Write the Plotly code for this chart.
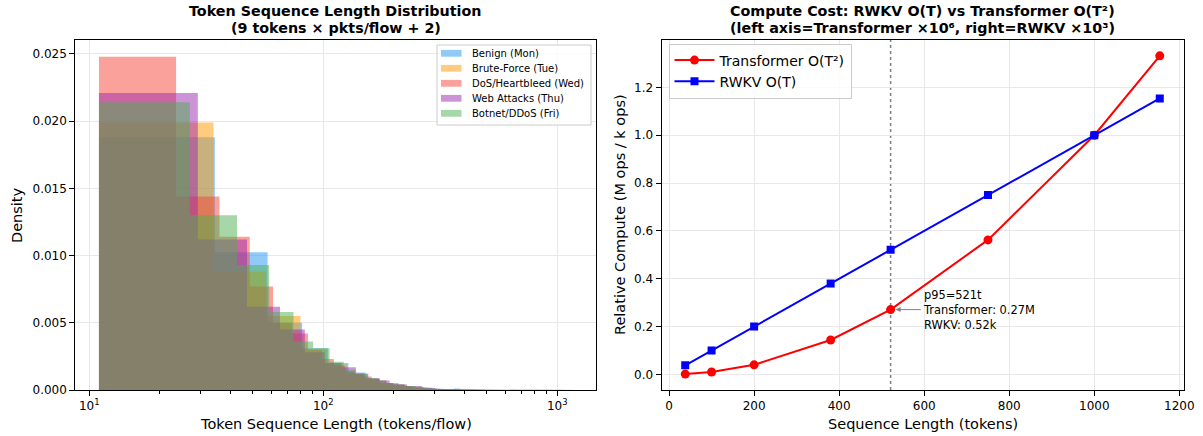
import plotly.graph_objects as go

W, H = 1203, 436

# ---------------- token sequence length histograms (density per bin) ----------------
bin_start = 11.0

series_names = ["Benign (Mon)", "Brute-Force (Tue)", "DoS/Heartbleed (Wed)",
                "Web Attacks (Thu)", "Botnet/DDoS (Fri)"]

benign_width = 23.4
benign_density = [0.0188, 0.01025, 0.0050, 0.0031, 0.0020, 0.0013, 0.0008, 0.0005,
                  0.0004, 0.0003, 0.0002, 0.00015, 0.0001, 0.00008, 0.00006, 0.00012,
                  0.00003, 0.00002, 0.00003, 0.00001, 0.00001, 0.00002, 0, 0.00001,
                  0, 0, 0.00001, 0, 0, 0, 0, 0, 0, 0, 0, 0, 0, 0, 0, 0, 0, 0, 0, 0,
                  0.00001]

brute_width = 22.96
brute_density = [0.0199, 0.0088, 0.0055, 0.0030, 0.0019, 0.0012, 0.0008, 0.0005,
                 0.0003, 0.0002, 0.00015, 0.0001, 0.00008, 0.00005, 0.00004, 0.00003,
                 0.00002, 0.00002, 0.00001, 0.00001, 0, 0.00001, 0, 0, 0.00001, 0, 0,
                 0, 0, 0, 0, 0, 0, 0, 0, 0, 0, 0, 0, 0, 0, 0, 0, 0, 0, 0, 0, 0, 0,
                 0.00001]

dos_width = 12.5
dos_density = [0.0248, 0.0144, 0.0114, 0.0077, 0.0050, 0.0042, 0.0030, 0.0023,
               0.0018, 0.0014, 0.0012, 0.0010, 0.0008, 0.0007, 0.0005, 0.0004,
               0.0004, 0.0003, 0.0002, 0.0002, 0.00015, 0.00012, 0.0001, 0.00008,
               0.00006, 0.00005, 0.00004, 0.00004, 0.00003, 0.00002, 0.00002, 0.00002,
               0.00001, 0.00001, 0.00002, 0, 0.00001, 0.00001, 0, 0, 0.00001, 0, 0, 0,
               0.00001, 0, 0, 0, 0, 0, 0, 0.00001]

web_width = 18.1
web_density = [0.0221, 0.0112, 0.0062, 0.0045, 0.0028, 0.0020, 0.0017, 0.0012,
               0.0009, 0.0007, 0.0005, 0.0004, 0.0003, 0.0003, 0.0002, 0.00015,
               0.0001, 0.0001, 0.00007, 0.00005, 0.00004, 0.00003, 0.00003, 0.00002,
               0.00002, 0.00001, 0.00001, 0.00002, 0, 0.00001, 0, 0.00001, 0, 0,
               0.00001, 0, 0, 0, 0, 0, 0.00001, 0, 0, 0, 0, 0, 0, 0, 0, 0, 0,
               0.00001]

botnet_width = 15.9
botnet_density = [0.0214, 0.0130, 0.0093, 0.0058, 0.0036, 0.0031, 0.0021, 0.0015,
                  0.0012, 0.0009, 0.0007, 0.0005, 0.0004, 0.0003, 0.0003, 0.0002,
                  0.00015, 0.00012, 0.0001, 0.00008, 0.00006, 0.00005, 0.00004,
                  0.00003, 0.00003, 0.00002, 0.00002, 0.00001, 0.00001, 0.00001, 0,
                  0.00001, 0, 0.00001, 0, 0, 0, 0.00001, 0, 0, 0, 0, 0, 0, 0, 0, 0,
                  0, 0, 0, 0, 0.00001]

hist_widths = [benign_width, brute_width, dos_width, web_width, botnet_width]
hist_densities = [benign_density, brute_density, dos_density, web_density, botnet_density]
hist_colors = ["rgba(33,150,243,0.5)", "rgba(255,152,0,0.5)", "rgba(244,67,54,0.5)",
               "rgba(156,39,176,0.5)", "rgba(76,175,80,0.5)"]

# ---------------- compute cost curves ----------------
seq_len = [38, 100, 200, 380, 521, 750, 1000, 1154]
transformer_mops = [0.0014, 0.01, 0.04, 0.144, 0.271, 0.5625, 1.0, 1.332]
rwkv_kops = [0.038, 0.1, 0.2, 0.38, 0.521, 0.75, 1.0, 1.154]
p95_index = 4

FONT = "DejaVu Sans"


def px_x(p):
    return p / W


def px_y(p):
    return (H - p) / H


def step_outline(start, width, dens):
    xs, ys = [start], [0.0]
    for i, d in enumerate(dens):
        left = start + i * width
        right = left + width
        xs += [left, right]
        ys += [d, d]
    xs.append(start + len(dens) * width)
    ys.append(0.0)
    return xs, ys


fig = go.Figure()

for name, w, dens, col in zip(series_names, hist_widths, hist_densities, hist_colors):
    xs, ys = step_outline(bin_start, w, dens)
    fig.add_trace(go.Scatter(
        x=xs, y=ys, mode="lines", fill="toself", fillcolor=col,
        line=dict(width=0, color=col), name=name, showlegend=False,
        xaxis="x", yaxis="y", hoverinfo="skip"))

fig.add_trace(go.Scatter(
    x=seq_len, y=transformer_mops, mode="lines+markers", name="Transformer O(T²)",
    line=dict(color="#ff0000", width=2), marker=dict(symbol="circle", size=9, color="#ff0000"),
    xaxis="x2", yaxis="y2"))
fig.add_trace(go.Scatter(
    x=seq_len, y=rwkv_kops, mode="lines+markers", name="RWKV O(T)",
    line=dict(color="#0000ff", width=2), marker=dict(symbol="square", size=8, color="#0000ff"),
    xaxis="x2", yaxis="y2"))

axis_common = dict(
    automargin=False,
    showline=True, linecolor="black", linewidth=1, mirror=True,
    ticks="outside", ticklen=5, tickcolor="black", tickwidth=1,
    showgrid=True, gridcolor="#e8e8e8", gridwidth=1, zeroline=False,
    tickfont=dict(family=FONT, size=12, color="black"),
)

minor_vals = [m * 10 ** e for e in (1, 2) for m in range(2, 10)]

LEFT_X0, LEFT_X1 = 75.3, 596
RIGHT_X0, RIGHT_X1 = 661.5, 1183.5
TOP, BOTTOM = 40, 390

fig.update_layout(
    width=W, height=H, autosize=False,
    margin=dict(l=0, r=0, t=0, b=0, autoexpand=False),
    paper_bgcolor="white", plot_bgcolor="white",
    font=dict(family=FONT, color="black"),
    xaxis=dict(axis_common, type="log", domain=[px_x(LEFT_X0), px_x(LEFT_X1)],
               range=[0.9403, 3.1654], anchor="y",
               tickvals=[10, 100, 1000],
               ticktext=["10<sup>1</sup>", "10<sup>2</sup>", "10<sup>3</sup>"],
               minor=dict(ticks="outside", ticklen=3, tickcolor="black",
                          tickvals=minor_vals, showgrid=False)),
    yaxis=dict(axis_common, domain=[px_y(BOTTOM), px_y(TOP)], range=[0, 0.02604],
               anchor="x", tickvals=[0, 0.005, 0.01, 0.015, 0.02, 0.025],
               tickformat=".3f"),
    xaxis2=dict(axis_common, domain=[px_x(RIGHT_X0), px_x(RIGHT_X1)],
                range=[-17.8, 1209.8], anchor="y2",
                tickvals=[0, 200, 400, 600, 800, 1000, 1200]),
    yaxis2=dict(axis_common, domain=[px_y(BOTTOM), px_y(TOP)], range=[-0.0651, 1.3982],
                anchor="x2", tickvals=[0, 0.2, 0.4, 0.6, 0.8, 1.0, 1.2],
                tickformat=".1f"),
    legend=dict(x=px_x(668.5), y=px_y(43.5), xanchor="left", yanchor="top",
                bgcolor="rgba(255,255,255,0.8)", bordercolor="#cccccc", borderwidth=1,
                font=dict(family=FONT, size=14), itemwidth=40),
    showlegend=True,
)

# legend box for the histogram panel
LG_X0, LG_X1, LG_Y0 = 437, 591, 45
row_h = 15
fig.add_shape(type="rect", xref="paper", yref="paper",
              x0=px_x(LG_X0), x1=px_x(LG_X1), y0=px_y(LG_Y0), y1=px_y(LG_Y0 + 80),
              fillcolor="rgba(255,255,255,0.8)", line=dict(color="#cccccc", width=1),
              layer="above")
for i, (name, col) in enumerate(zip(series_names, hist_colors)):
    cy = LG_Y0 + 8.3 + i * row_h
    fig.add_shape(type="rect", xref="paper", yref="paper",
                  x0=px_x(441), x1=px_x(461.5), y0=px_y(cy + 3.4), y1=px_y(cy - 3.4),
                  fillcolor=col, line=dict(width=0), layer="above")
    fig.add_annotation(x=px_x(470), y=px_y(cy), xref="paper", yref="paper", text=name,
                       showarrow=False, xanchor="left", yanchor="middle",
                       font=dict(family=FONT, size=10, color="black"))

# p95 marker line
fig.add_shape(type="line", xref="x2", yref="y2 domain",
              x0=seq_len[p95_index], x1=seq_len[p95_index], y0=0, y1=1,
              line=dict(color="gray", width=1.5, dash="dot"), layer="below")

fig.add_annotation(
    x=seq_len[p95_index], y=transformer_mops[p95_index], xref="x2", yref="y2",
    ax=592, ay=transformer_mops[p95_index], axref="x2", ayref="y2",
    text=(f"p95={seq_len[p95_index]}t<br>Transformer: {transformer_mops[p95_index]:.2f}M"
          f"<br>RWKV: {rwkv_kops[p95_index]:.2f}k"),
    showarrow=True, arrowhead=2, arrowsize=1, arrowwidth=1, arrowcolor="gray",
    standoff=5, xanchor="left", align="left",
    font=dict(family=FONT, size=11.4, color="black"))

# titles
lc = (LEFT_X0 + LEFT_X1) / 2
rc = (RIGHT_X0 + RIGHT_X1) / 2
titles = [
    (lc, 11, "<b>Token Sequence Length Distribution</b>"),
    (lc, 28, "<b>(9 tokens × pkts/flow + 2)</b>"),
    (rc, 11, "<b>Compute Cost: RWKV O(T) vs Transformer O(T²)</b>"),
    (rc, 28, "<b>(left axis=Transformer ×10⁶, right=RWKV ×10³)</b>"),
]
for x, y, t in titles:
    fig.add_annotation(x=px_x(x), y=px_y(y), xref="paper", yref="paper", text=t,
                       showarrow=False, xanchor="center", yanchor="middle",
                       font=dict(family=FONT, size=14.3, color="black"))

# axis labels
labels = [
    (lc, 424, 0, "Token Sequence Length (tokens/flow)"),
    (17, 215, -90, "Density"),
    (rc, 424, 0, "Sequence Length (tokens)"),
    (620, 215, -90, "Relative Compute (M ops / k ops)"),
]
for x, y, ang, t in labels:
    fig.add_annotation(x=px_x(x), y=px_y(y), xref="paper", yref="paper", text=t,
                       showarrow=False, xanchor="center", yanchor="middle",
                       textangle=ang, font=dict(family=FONT, size=14.5, color="black"))

fig.write_html(
    "out.html",
    config={"displayModeBar": False},
    post_script=("document.documentElement.style.overflow='hidden';"
                 "document.body.style.margin='0';document.body.style.overflow='hidden';"),
)
